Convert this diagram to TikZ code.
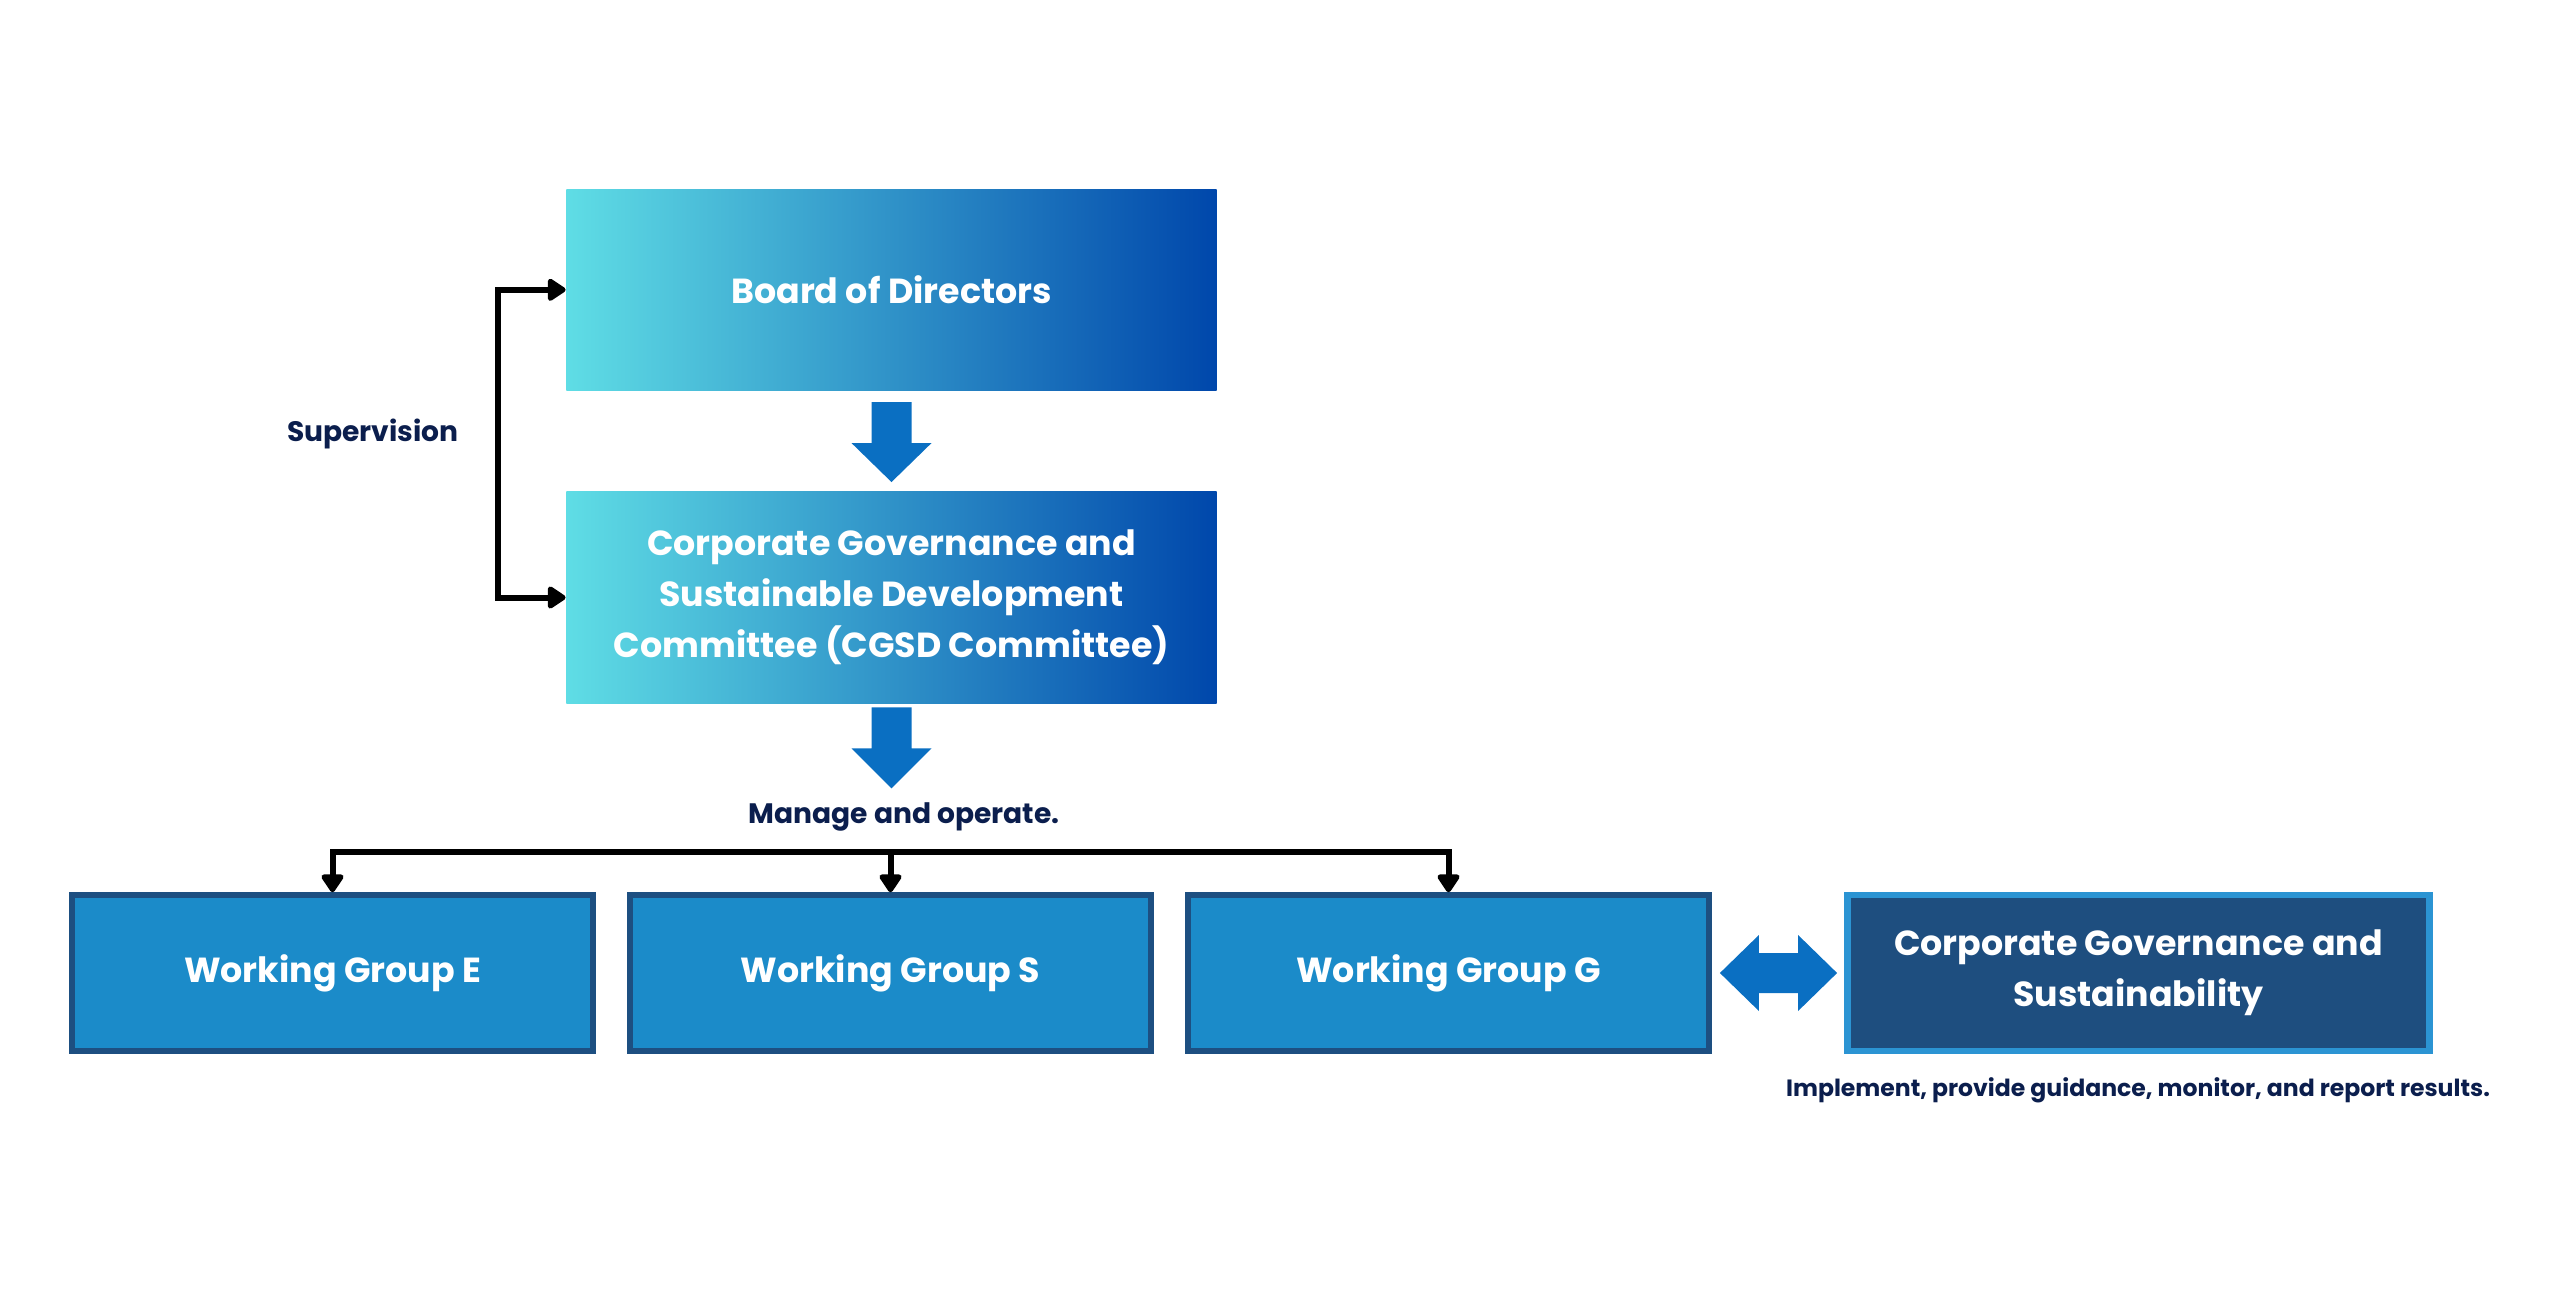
\documentclass[tikz,border=0pt]{standalone}
\usepackage{fontspec}
\setmainfont{Poppins}
\usetikzlibrary{arrows.meta,calc}
\definecolor{gradL}{HTML}{5FDDE5}
\definecolor{gradR}{HTML}{0047AB}
\definecolor{arrowblue}{HTML}{0A6FC2}
\definecolor{wgfill}{HTML}{1B8BC9}
\definecolor{wgborder}{HTML}{1D4F81}
\definecolor{cgsfill}{HTML}{1E4E7F}
\definecolor{cgsborder}{HTML}{2B94D3}
\definecolor{navy}{HTML}{0B1E4D}
\tikzset{
  boxtext/.style={text=white, font=\fontsize{9.9}{14.5}\selectfont\bfseries, align=center},
  gradbox/.style={boxtext, draw=none, left color=gradL, right color=gradR, minimum width=6.5cm, inner sep=0pt},
  wgbox/.style={boxtext, draw=wgborder, fill=wgfill, line width=0.055cm, minimum width=5.21cm, minimum height=1.56cm, inner sep=0pt},
  cgsbox/.style={boxtext, draw=cgsborder, fill=cgsfill, line width=0.065cm, minimum width=5.82cm, minimum height=1.555cm, inner sep=0pt},
  lbl/.style={text=navy, font=\fontsize{8}{10}\selectfont\bfseries},
  smalllbl/.style={text=navy, font=\fontsize{6.7}{9}\selectfont\bfseries},
  blk/.style={draw=black, line width=0.06cm},
  >={Triangle[length=0.2cm, width=0.25cm, round]},
}
\begin{document}
\begin{tikzpicture}[x=0.01cm, y=-0.01cm]
\useasboundingbox (0,0) rectangle (2560,1309);
% main boxes
\node[gradbox, minimum height=2.01cm] (bod) at (891.5,289.8) {Board of Directors};
\node[gradbox, minimum height=2.12cm] (cgsd) at (891.5,597.5) {Corporate Governance and\\Sustainable Development\\Committee (CGSD Committee)};
% working groups
\node[wgbox] (wgE) at (332.5,973) {Working Group E};
\node[wgbox] (wgS) at (890.5,973) {Working Group S};
\node[wgbox] (wgG) at (1448.5,973) {Working Group G};
\node[cgsbox] (cgs) at (2138.5,973) {Corporate Governance and\\Sustainability};
% labels
\node[lbl] (sup) at (373,434) {Supervision};
\node[lbl] (mng) at (904,817) {Manage and operate.};
\node[smalllbl] (imp) at (2138,1090) {Implement, provide guidance, monitor, and report results.};
% block arrows
\fill[arrowblue] ($(bod.south)+(-20,11)$) -- ($(bod.south)+(20,11)$) -- ($(bod.south)+(20,52)$) -- ($(bod.south)+(40,52)$)
  -- ($(bod.south)+(0,91)$) -- ($(bod.south)+(-40,52)$) -- ($(bod.south)+(-20,52)$) -- cycle;
\fill[arrowblue] ($(cgsd.south)+(-20,3)$) -- ($(cgsd.south)+(20,3)$) -- ($(cgsd.south)+(20,44)$) -- ($(cgsd.south)+(40,44)$)
  -- ($(cgsd.south)+(0,84)$) -- ($(cgsd.south)+(-40,44)$) -- ($(cgsd.south)+(-20,44)$) -- cycle;
\fill[arrowblue] ($(wgG.east)+(8,0)$) -- ($(wgG.east)+(47,-38)$) -- ($(wgG.east)+(47,-20)$) -- ($(cgs.west)+(-46,-20)$)
  -- ($(cgs.west)+(-46,-38)$) -- ($(cgs.west)+(-7,0)$) -- ($(cgs.west)+(-46,38)$) -- ($(cgs.west)+(-46,20)$)
  -- ($(wgG.east)+(47,20)$) -- ($(wgG.east)+(47,38)$) -- cycle;
% supervision bracket
\draw[blk, <->] (bod.west) -- ++(-68,0) |- (cgsd.west);
% distribution tree
\coordinate (bus) at (0,852);
\draw[blk, <->] (wgE.north) -- (wgE.north |- bus) -- (wgG.north |- bus) -- (wgG.north);
\draw[blk, ->] (wgS.north |- bus) -- (wgS.north);
\end{tikzpicture}
\end{document}
